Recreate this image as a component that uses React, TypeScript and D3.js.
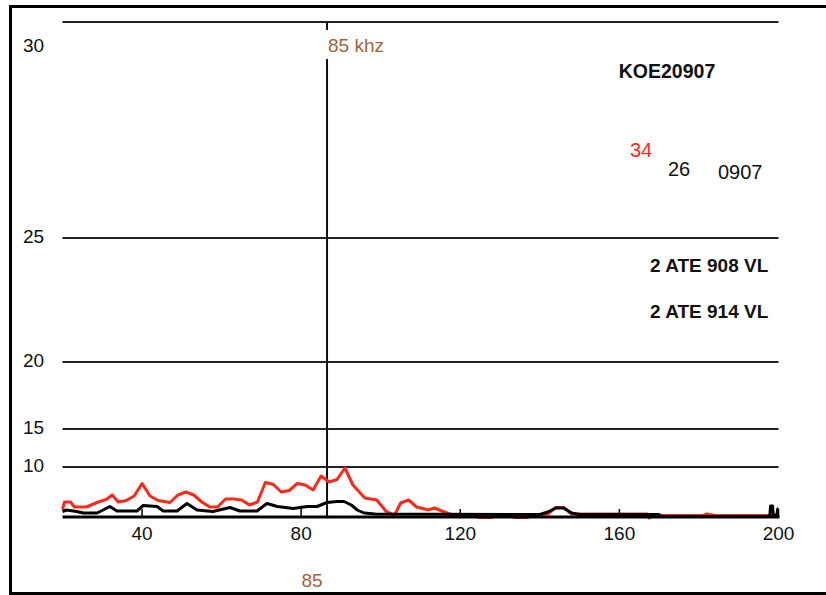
import React from "react";
import * as d3 from "d3";

const W = 826;
const H = 595;

// x ticks (kHz)
const xTicks = [40, 80, 120, 160, 200];
// y labels and grid lines
const yLabels = [30, 25, 20, 15, 10];
const yGrid = [30, 25, 20, 15, 10];

// red series [kHz, value]
const redSeries: [number, number][] = [
  [20, 1.5], [20.5, 3.0], [22, 3.0], [23, 2.0], [26, 2.0], [29, 3.0], [31, 3.5],
  [32.5, 4.4], [34, 3.0], [36, 3.3], [38, 4.2], [40, 6.7], [42, 4.2], [44, 3.3],
  [47, 2.9], [49, 4.4], [51, 5.0], [53, 4.4], [55, 3.0], [57, 2.0], [59, 2.0],
  [61, 3.6], [63, 3.6], [65, 3.4], [67, 2.4], [69, 3.0], [71, 6.9], [73, 6.5],
  [75, 5.0], [77, 5.3], [79, 6.7], [81, 6.4], [83, 5.4], [85, 8.2], [87, 7.0],
  [89, 7.5], [91, 9.8], [93, 6.4], [96, 3.8], [99, 3.4], [101.5, 1.0], [103.5, 0.4],
  [105, 2.8], [107, 3.4], [109, 2.0], [112, 1.4], [113.5, 1.8], [116, 1.0],
  [118, 0.4], [124, 0.3], [124.5, -0.1], [128, -0.1], [128.5, 0.3], [133, 0.3],
  [133.5, -0.1], [137, -0.1], [137.5, 0.3], [142, 0.6], [144, 1.9], [146, 1.9],
  [148, 0.6], [160, 0.6], [167, 0.6], [167.5, -0.2], [168.5, 0.3], [181, 0.3],
  [182, 0.6], [184, 0.3], [200, 0.3],
];

// black series [kHz, value]
const blackSeries: [number, number][] = [
  [20, 1.1], [21, 1.4], [23.6, 1.1], [25.2, 0.8], [28.7, 0.8], [30.2, 1.4],
  [31.9, 2.1], [33.7, 1.2], [38.7, 1.2], [40.3, 2.3], [43.8, 2.1], [45.3, 1.2],
  [48.8, 1.2], [51.3, 2.7], [53.8, 1.4], [57.8, 1.1], [62.1, 1.9], [64.6, 1.2],
  [68.9, 1.2], [71.4, 2.7], [74.0, 2.1], [78.0, 1.7], [81.5, 2.1], [84.0, 2.1],
  [86.5, 2.9], [89.0, 3.1], [90.8, 3.1], [92.6, 2.4], [94.1, 1.4], [95.8, 0.8],
  [98.6, 0.6], [140, 0.5], [142, 1.0], [144, 1.8], [146, 1.8], [148, 0.8],
  [150, 0.5], [170, 0.5], [170.5, 0.1], [197.8, 0.1], [198, 2.2], [198.5, 2.2],
  [198.7, 0.4], [199.6, 0.4], [199.8, 1.6], [200, 1.6],
];

const markerKhz = 86.5;
const markerLabel = "85 khz";
const markerBottomLabel = "85";
const titleLabel = "KOE20907";
const countRed = "34";
const countBlack = "26";
const dateLabel = "0907";
const legendLines = ["2 ATE 908 VL", "2 ATE 914 VL"];

const x = d3.scaleLinear().domain([20, 200]).range([62.5, 778.5]);
const y = d3
  .scaleLinear()
  .domain([0, 10, 15, 20, 25, 30])
  .range([517, 467, 429, 362, 238, 22]);

const font = "'Liberation Sans', Arial, sans-serif";
const brown = "#a2643e";
const labelMinY = 45;

export default function App() {
  const line = d3
    .line<[number, number]>()
    .x((d) => x(d[0]))
    .y((d) => y(d[1]));

  const [x0, x1] = x.range();
  const mx = x(markerKhz);
  const top = y(30);

  return (
    <svg
      width={W}
      height={H}
      style={{ position: "absolute", left: 0, top: 0, background: "#fff" }}
      fontFamily={font}
    >
      <rect x={0} y={0} width={W} height={H} fill="#fff" />
      {/* frame */}
      <line x1={10.5} y1={5} x2={10.5} y2={595} stroke="#000" strokeWidth={3} />
      <line x1={9} y1={6.5} x2={826} y2={6.5} stroke="#000" strokeWidth={3} />
      <line x1={9} y1={593.5} x2={826} y2={593.5} stroke="#000" strokeWidth={3} />

      {/* grid lines */}
      {yGrid.map((v) => (
        <line key={v} x1={x0} y1={y(v)} x2={x1} y2={y(v)} stroke="#222" strokeWidth={2} />
      ))}
      {/* y labels */}
      {yLabels.map((v) => (
        <text key={v} x={23} y={Math.max(y(v) - 2, labelMinY)} dy="0.35em" fontSize={19} fill="#111">
          {v}
        </text>
      ))}

      {/* marker vertical line */}
      <line x1={mx} y1={top} x2={mx} y2={y(0)} stroke="#111" strokeWidth={2} />
      <rect x={mx - 2} y={30} width={66} height={29} fill="#fff" />
      <text x={mx + 1} y={labelMinY} dy="0.35em" fontSize={19} fill={brown}>
        {markerLabel}
      </text>

      {/* series */}
      <path d={line(redSeries) || ""} fill="none" stroke="#ff2a1a" strokeWidth={3} strokeLinejoin="round" />
      <path d={line(blackSeries) || ""} fill="none" stroke="#000" strokeWidth={3} strokeLinejoin="round" />

      {/* x axis */}
      <line x1={x0} y1={y(0)} x2={x1 + 1} y2={y(0)} stroke="#000" strokeWidth={3} />
      {xTicks.map((t) => (
        <g key={t}>
          <line x1={x(t)} y1={y(0)} x2={x(t)} y2={y(0) - 8} stroke="#000" strokeWidth={1.5} />
          <text x={x(t)} y={533} dy="0.35em" textAnchor="middle" fontSize={19} fill="#111">
            {t}
          </text>
        </g>
      ))}
      <text x={mx - 15} y={580} dy="0.35em" textAnchor="middle" fontSize={19} fill={brown}>
        {markerBottomLabel}
      </text>

      {/* annotations */}
      <text x={667} y={71} dy="0.35em" textAnchor="middle" fontSize={19.5} fontWeight="bold" fill="#111">
        {titleLabel}
      </text>
      <text x={630} y={150} dy="0.35em" fontSize={20} fill="#ff2a1a">
        {countRed}
      </text>
      <text x={668} y={169} dy="0.35em" fontSize={20} fill="#111">
        {countBlack}
      </text>
      <text x={718} y={172} dy="0.35em" fontSize={20} fill="#111">
        {dateLabel}
      </text>
      {legendLines.map((s, i) => (
        <text key={s} x={650} y={265 + i * 46} dy="0.35em" fontSize={19} fontWeight="bold" fill="#111">
          {s}
        </text>
      ))}
    </svg>
  );
}
